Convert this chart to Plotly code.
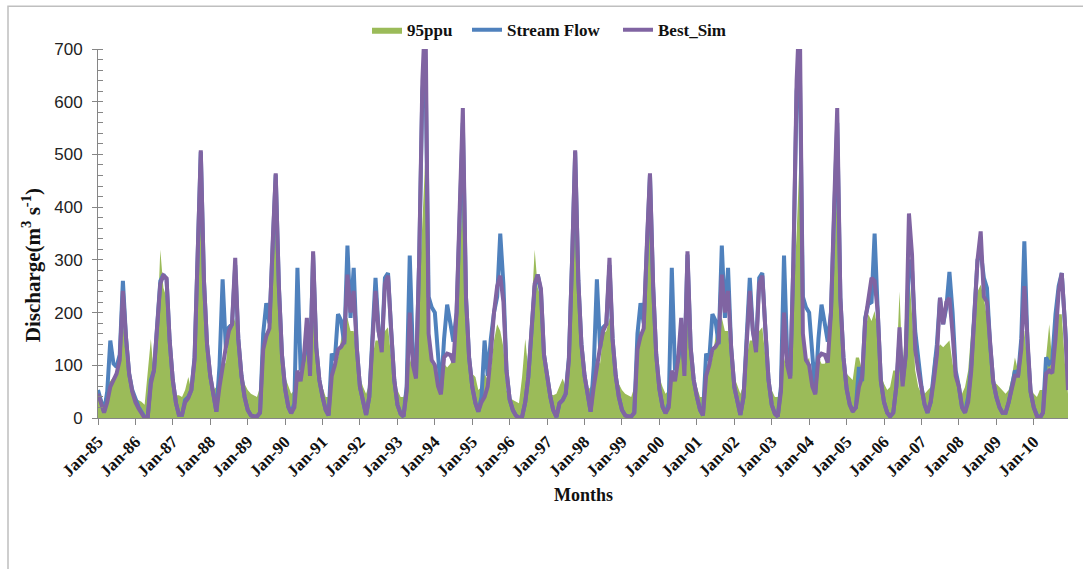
import plotly.graph_objects as go
import pandas as pd

# Monthly values, Jan-1985 .. Dec-2010 (one row per year)
stream_flow = [
    53, 28, 12, 50, 147, 103, 97, 120, 260, 153, 84, 53,
    34, 21, 12, 2, 2, 72, 90, 165, 260, 272, 263, 147,
    72, 28, 6, 6, 34, 40, 53, 115, 300, 505, 260, 140,
    80, 40, 12, 100, 263, 134, 172, 178, 290, 150, 80, 40,
    15, 5, 3, 3, 10, 160, 218, 180, 330, 462, 250, 120,
    55, 21, 9, 28, 285, 90, 110, 150, 100, 310, 134, 72,
    40, 15, 5, 122, 110, 197, 185, 140, 327, 190, 285, 134,
    59, 28, 6, 40, 150, 266, 165, 134, 266, 275, 165, 72,
    25, 8, 3, 60, 308, 120, 80, 300, 620, 680, 230, 210,
    200, 110, 48, 150, 215, 180, 145, 200, 400, 560, 228, 115,
    59, 28, 12, 40, 147, 80, 150, 200, 230, 350, 253, 90,
    35, 15, 5, 0, 2, 30, 78, 165, 250, 272, 240, 120,
    78, 40, 15, 2, 28, 34, 46, 115, 300, 505, 260, 140,
    80, 40, 12, 100, 263, 134, 172, 178, 290, 150, 80, 40,
    15, 5, 3, 3, 10, 160, 218, 180, 330, 462, 250, 120,
    55, 21, 9, 28, 285, 90, 110, 150, 100, 310, 134, 72,
    40, 15, 5, 122, 110, 197, 185, 140, 327, 190, 285, 134,
    59, 28, 6, 40, 150, 266, 165, 134, 266, 275, 165, 72,
    25, 8, 3, 60, 308, 120, 80, 300, 620, 680, 230, 210,
    200, 110, 48, 150, 215, 180, 145, 200, 400, 560, 228, 115,
    55, 25, 15, 20, 97, 70, 190, 216, 220, 350, 200, 70,
    30, 10, 3, 10, 60, 150, 70, 120, 300, 280, 165, 110,
    60, 25, 10, 30, 80, 140, 228, 178, 210, 277, 200, 90,
    60, 20, 10, 40, 100, 200, 300, 316, 266, 247, 140, 70,
    40, 20, 10, 10, 30, 60, 90, 80, 150, 335, 140, 50,
    20, 5, 0, 10, 115, 103, 110, 197, 250, 275, 180, 85,
]

best_sim = [
    46, 25, 10, 30, 59, 72, 84, 110, 241, 153, 84, 50,
    30, 18, 10, 0, 0, 65, 90, 165, 255, 270, 265, 147,
    72, 28, 6, 6, 30, 38, 53, 110, 300, 508, 260, 140,
    80, 40, 12, 60, 100, 134, 165, 178, 304, 150, 80, 40,
    15, 5, 3, 3, 10, 130, 155, 170, 330, 464, 250, 120,
    55, 21, 9, 20, 90, 70, 110, 190, 80, 316, 134, 72,
    40, 15, 5, 80, 100, 130, 135, 145, 272, 200, 241, 134,
    59, 28, 6, 40, 140, 241, 165, 125, 255, 270, 165, 72,
    25, 8, 3, 50, 200, 100, 75, 300, 640, 780, 160, 110,
    100, 60, 45, 115, 122, 120, 105, 200, 400, 588, 228, 115,
    59, 28, 12, 30, 40, 60, 120, 200, 250, 270, 220, 90,
    35, 15, 5, 0, 2, 30, 78, 165, 255, 272, 245, 120,
    78, 40, 15, 2, 28, 34, 46, 110, 300, 508, 260, 140,
    80, 40, 12, 60, 100, 134, 165, 178, 304, 150, 80, 40,
    15, 5, 3, 3, 10, 130, 155, 170, 330, 464, 250, 120,
    55, 21, 9, 20, 90, 70, 110, 190, 80, 316, 134, 72,
    40, 15, 5, 80, 100, 130, 135, 145, 272, 200, 241, 134,
    59, 28, 6, 40, 140, 241, 165, 125, 255, 270, 165, 72,
    25, 8, 3, 50, 200, 100, 75, 300, 640, 780, 160, 110,
    100, 60, 45, 115, 122, 120, 105, 200, 400, 588, 228, 115,
    55, 25, 12, 20, 59, 78, 184, 222, 266, 260, 200, 70,
    30, 10, 3, 10, 60, 172, 60, 120, 388, 310, 130, 90,
    60, 25, 10, 30, 70, 120, 228, 178, 220, 228, 160, 80,
    60, 20, 10, 30, 90, 200, 300, 354, 230, 220, 140, 70,
    40, 20, 10, 10, 30, 60, 80, 80, 130, 250, 140, 50,
    20, 3, 0, 10, 84, 90, 85, 150, 240, 275, 180, 53,
]

ppu95_upper = [
    53, 40, 28, 65, 70, 78, 84, 115, 190, 110, 78, 40,
    37, 34, 31, 25, 80, 150, 78, 165, 319, 247, 228, 115,
    59, 43, 43, 40, 53, 78, 53, 90, 380, 480, 250, 134,
    78, 53, 59, 90, 115, 103, 160, 172, 190, 147, 90, 65,
    53, 46, 43, 40, 59, 165, 160, 172, 260, 400, 197, 115,
    78, 59, 46, 53, 90, 78, 103, 147, 134, 197, 115, 72,
    59, 40, 40, 78, 90, 115, 153, 184, 190, 165, 165, 115,
    78, 59, 46, 65, 115, 147, 147, 160, 165, 172, 115, 78,
    53, 40, 40, 65, 115, 90, 103, 228, 350, 500, 200, 103,
    96, 59, 53, 103, 96, 103, 115, 197, 290, 450, 228, 115,
    84, 78, 53, 59, 84, 72, 90, 147, 178, 165, 134, 53,
    40, 34, 31, 28, 78, 150, 90, 197, 319, 247, 228, 115,
    59, 46, 43, 46, 59, 75, 59, 103, 380, 480, 250, 134,
    84, 53, 59, 90, 115, 103, 160, 165, 190, 147, 90, 65,
    53, 46, 43, 40, 59, 178, 160, 172, 260, 400, 197, 115,
    78, 59, 46, 53, 90, 78, 103, 147, 134, 197, 115, 72,
    59, 40, 40, 78, 90, 115, 153, 184, 190, 165, 165, 115,
    78, 59, 46, 65, 115, 147, 147, 160, 165, 172, 115, 78,
    53, 40, 40, 65, 115, 90, 103, 228, 350, 500, 200, 103,
    115, 59, 53, 115, 103, 103, 115, 197, 290, 450, 228, 103,
    84, 78, 72, 115, 115, 90, 165, 197, 184, 203, 165, 84,
    65, 53, 59, 90, 90, 240, 90, 197, 280, 197, 90, 59,
    46, 46, 53, 59, 115, 128, 140, 134, 140, 147, 103, 72,
    53, 46, 59, 90, 165, 228, 240, 253, 228, 190, 103, 65,
    65, 59, 53, 46, 53, 78, 115, 90, 165, 165, 103, 59,
    46, 40, 53, 53, 115, 178, 103, 165, 197, 197, 103, 46,
]

series_names = ["95ppu", "Stream Flow", "Best_Sim"]
start_month = "1985-01-01"
months = pd.date_range(start_month, periods=len(stream_flow), freq="MS")

GREEN = "#9BBB59"
BLUE = "#4F81BD"
PURPLE = "#8064A2"
AXIS = "#868686"
SERIF = "Liberation Serif, Times New Roman, serif"
SANS = "Liberation Sans, Arial, sans-serif"

W, H = 1083, 569
L, R, T, B = 98, 15, 46, 151
pw, ph = W - L - R, H - T - B

fig = go.Figure()
fig.add_trace(go.Scatter(
    x=months, y=ppu95_upper, name=series_names[0], mode="lines",
    line=dict(width=0, color=GREEN), fill="tozeroy", fillcolor=GREEN,
    legend="legend",
))
fig.add_trace(go.Scatter(
    x=months, y=stream_flow, name=series_names[1], mode="lines",
    line=dict(width=4, color=BLUE), legend="legend2",
))
fig.add_trace(go.Scatter(
    x=months, y=best_sim, name=series_names[2], mode="lines",
    line=dict(width=4, color=PURPLE), legend="legend3",
))

leg_font = dict(family=SERIF, size=17, color="#111", weight="bold")
leg_y = 1 + (T - 27) / ph


def legend_at(px):
    return dict(orientation="h", x=(px - L) / pw, xanchor="left",
                y=leg_y, yanchor="middle", font=leg_font,
                bgcolor="rgba(0,0,0,0)", borderwidth=0)


fig.update_layout(
    width=W, height=H,
    margin=dict(l=L, r=R, t=T, b=B),
    paper_bgcolor="white", plot_bgcolor="white",
    showlegend=True,
    legend=legend_at(367),
    legend2=legend_at(467),
    legend3=legend_at(618),
    xaxis=dict(
        type="date", range=[months[0], months[-1]],
        tickformat="%b-%y", dtick="M12", tick0=start_month,
        tickangle=-45, showgrid=False, zeroline=False,
        showline=True, linecolor=AXIS, linewidth=1,
        ticks="outside", ticklen=6, tickcolor=AXIS,
        tickfont=dict(family=SERIF, size=17, color="#111", weight="bold"),
    ),
    yaxis=dict(
        range=[0, 700], dtick=100, showgrid=False, zeroline=False,
        showline=True, linecolor=AXIS, linewidth=1,
        ticks="outside", ticklen=5, tickcolor=AXIS,
        minor=dict(dtick=20, ticks="inside", ticklen=5, tickcolor=AXIS),
        tickfont=dict(family=SANS, size=17, color="#222"),
        ticklabelstandoff=6,
    ),
    annotations=[
        dict(text="Discharge(m<sup>3</sup> s<sup>-1</sup>)", textangle=-90,
             xref="paper", yref="paper", x=(31 - L) / pw, y=(H - B - 264) / ph,
             xanchor="center", yanchor="middle", showarrow=False,
             font=dict(family=SERIF, size=21, color="#111", weight="bold")),
        dict(text="Months", xref="paper", yref="paper",
             x=0.5, y=(H - B - 496) / ph, xanchor="center", yanchor="middle",
             showarrow=False,
             font=dict(family=SERIF, size=18, color="#111", weight="bold")),
    ],
    shapes=[
        dict(type="rect", xref="paper", yref="paper",
             x0=(8 - L) / pw, x1=1.05, y0=-0.6, y1=1 + (T - 3) / ph,
             line=dict(color="#BFBFBF", width=1.5), fillcolor="rgba(0,0,0,0)",
             layer="below"),
    ],
)

fig.write_html("out.html", config={"displayModeBar": False},
               post_script="document.body.style.margin='0';")
